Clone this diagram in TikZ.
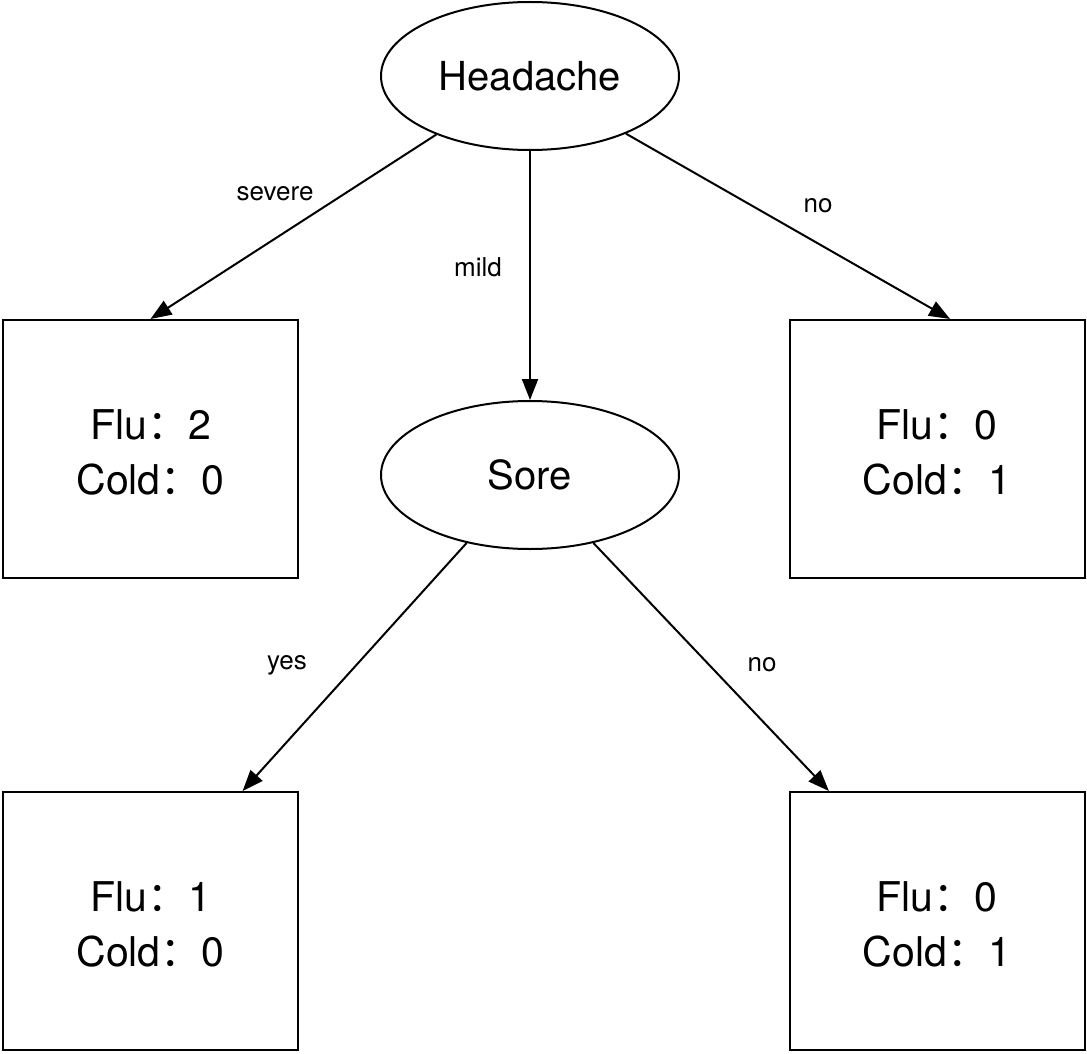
\documentclass[tikz,border=0pt]{standalone}
\usepackage{fontspec}
\setmainfont{TeX Gyre Heros}
\newfontfamily\cjk{Noto Sans CJK SC}
\usetikzlibrary{arrows.meta,calc,shapes.geometric}

\begin{document}
\begin{tikzpicture}[x=1pt,y=-1pt,
		test/.style={ellipse, draw, line width=2pt, inner sep=0pt, minimum width=298pt, minimum height=148pt, font=\fontsize{40}{48}\selectfont},
		leaf/.style={rectangle, draw, line width=2pt, inner sep=0pt, minimum width=295pt, minimum height=258pt, align=center, font=\fontsize{41}{55}\selectfont},
		branch/.style={line width=2pt, -{Triangle[length=21pt,width=16pt]}},
		lbl/.style={font=\fontsize{26}{30}\selectfont}]
		\useasboundingbox (0,0) rectangle (1087,1054);
		\node[test] (head) at (530,76) {Headache};
		\node[test] (sore) at (530,475) {Sore};
		\node[leaf] (fluA) at (150.5,449) {\rule{0pt}{37pt}Flu{\cjk ：}2\\Cold{\cjk ：}0};
		\node[leaf] (coldA) at (937,449) {\rule{0pt}{37pt}Flu{\cjk ：}0\\Cold{\cjk ：}1};
		\node[leaf] (fluB) at (150.5,921) {\rule{0pt}{37pt}Flu{\cjk ：}1\\Cold{\cjk ：}0};
		\node[leaf] (coldB) at (937,921) {\rule{0pt}{37pt}Flu{\cjk ：}0\\Cold{\cjk ：}1};
		
		\draw[branch] (head.212.7) -- (fluA.north);
		\draw[branch] (head.south) -- (sore.north);
		\draw[branch] (head.329.3) -- ($(coldA.north west)!0.544!(coldA.north east)$);
		\draw[branch] (sore.227.2) -- ($(fluB.north west)!0.81!(fluB.north east)$);
		\draw[branch] (sore.313.3) -- ($(coldB.north west)!0.136!(coldB.north east)$);
		
		\node[lbl] (lsevere) at (275,194) {severe};
		\node[lbl] (lmild) at (478,267) {mild};
		\node[lbl] (lno) at (818,206) {no};
		\node[lbl] (lyes) at (287,665) {yes};
		\node[lbl] (lsno) at (762,665) {no};
	\end{tikzpicture}
\end{document}
